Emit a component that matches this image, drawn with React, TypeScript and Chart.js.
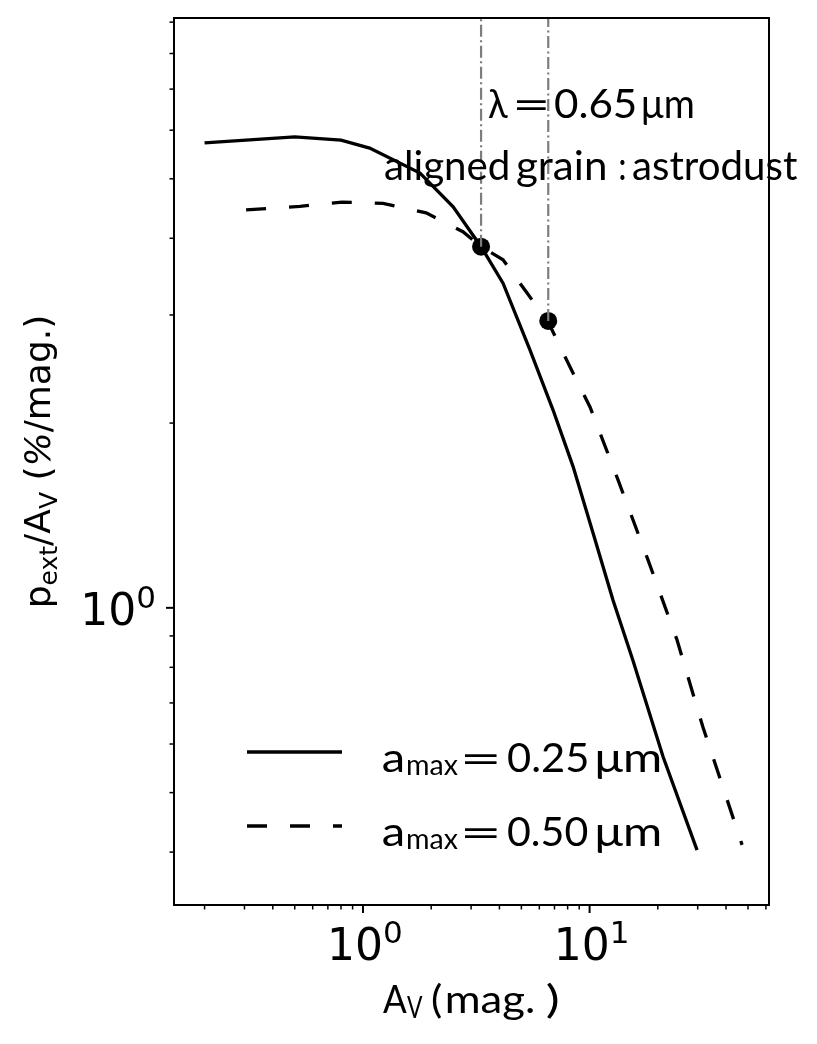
import React, { useEffect, useRef } from 'react';
import { Chart, registerables } from 'chart.js';

Chart.register(...registerables);

// ---- data ----
const solidAv = [0.2, 0.5, 0.8, 1.07, 1.785, 2.5, 3.32, 4.15, 5.46, 6.9, 8.45, 10.35, 12.68, 15.5, 21.1, 29.8];
const solidP = [5.72, 5.85, 5.78, 5.61, 5.11, 4.5, 3.876, 3.38, 2.63, 2.1, 1.7, 1.325, 1.03, 0.823, 0.572, 0.403];

const dashedAv = [0.305, 0.527, 0.808, 1.225, 1.9, 2.76, 3.32, 4.15, 5.29, 6.57, 8.19, 10.04, 13.35, 18.1, 24.3, 31.6, 47.1];
const dashedP = [4.45, 4.51, 4.58, 4.56, 4.4, 4.1, 3.876, 3.69, 3.26, 2.92, 2.47, 2.125, 1.616, 1.197, 0.887, 0.64, 0.411];

const markerAv = [3.32, 6.57];
const markerP = [3.876, 2.934];

const xMajorTicks = [1, 10];
const xMajorExps = ['0', '1'];
const xMinorTicks = [0.2, 0.3, 0.4, 0.5, 0.6, 0.7, 0.8, 0.9, 2, 3, 4, 5, 6, 7, 8, 9, 20, 30, 40, 50, 60];
const yMajorTicks = [1];
const yMajorExps = ['0'];
const yMinorTicks = [0.4, 0.5, 0.6, 0.7, 0.8, 0.9, 2, 3, 4, 5, 6, 7, 8, 9];

const xRange = [0.1466, 61.9];
const yRange = [0.328, 9.14];

const legendValues = ['0.25', '0.50'];

// ---- drawing helpers ----
type Part = { t: string; font: string; dy?: number };

function drawRich(ctx: CanvasRenderingContext2D, parts: Part[], x: number, y: number, align: 'left' | 'center' | 'right') {
  const widths = parts.map((p) => {
    ctx.font = p.font;
    return ctx.measureText(p.t).width;
  });
  const total = widths.reduce((a, b) => a + b, 0);
  let sx = align === 'left' ? x : align === 'center' ? x - total / 2 : x - total;
  ctx.textAlign = 'left';
  ctx.textBaseline = 'alphabetic';
  parts.forEach((p, i) => {
    ctx.font = p.font;
    ctx.fillText(p.t, sx, y + (p.dy || 0));
    sx += widths[i];
  });
}

// text piece whose ink is fitted horizontally between x0 and x1 (mathtext-like spacing)
type Seg = { t: string; font: string; x0: number; x1: number; dy?: number };
function drawSegs(ctx: CanvasRenderingContext2D, segs: Seg[], y: number) {
  ctx.textAlign = 'left';
  ctx.textBaseline = 'alphabetic';
  segs.forEach((s) => {
    ctx.font = s.font;
    const m = ctx.measureText(s.t);
    const l = m.actualBoundingBoxLeft;
    const ink = l + m.actualBoundingBoxRight;
    const k = ink > 0 ? (s.x1 - s.x0) / ink : 1;
    ctx.save();
    ctx.translate(s.x0, y + (s.dy || 0));
    ctx.scale(k, 1);
    ctx.fillText(s.t, l, 0);
    ctx.restore();
  });
}

const LATO = 'Lato, "Open Sans", sans-serif';
const DEJAVU = '"DejaVu Sans", sans-serif';

const decorPlugin = {
  id: 'decor',
  afterDatasetsDraw(chart: any) {
    const ctx: CanvasRenderingContext2D = chart.ctx;
    const { left, top, right, bottom } = chart.chartArea;
    const xs = chart.scales.x;
    const ys = chart.scales.y;
    ctx.save();
    ctx.fillStyle = '#000';
    ctx.strokeStyle = '#000';

    // annotation text
    const F40 = `40px ${LATO}`;
    drawSegs(
      ctx,
      [
        { t: 'λ', font: F40, x0: 488, x1: 508 },
        { t: '=', font: F40, x0: 517, x1: 547, dy: 1 },
        { t: '0.65', font: F40, x0: 555, x1: 635 },
        { t: 'μm', font: F40, x0: 643, x1: 693 },
      ],
      118
    );
    drawSegs(
      ctx,
      [
        { t: 'aligned', font: F40, x0: 385, x1: 508 },
        { t: 'grain', font: F40, x0: 517, x1: 605 },
        { t: ':', font: F40, x0: 620, x1: 625 },
        { t: 'astrodust', font: F40, x0: 633, x1: 797 },
      ],
      180
    );

    // spines
    ctx.lineWidth = 2;
    ctx.strokeRect(left, top, right - left, bottom - top);

    // ticks
    ctx.lineCap = 'butt';
    const drawX = (v: number, len: number, w: number) => {
      const px = xs.getPixelForValue(v);
      ctx.lineWidth = w;
      ctx.beginPath();
      ctx.moveTo(px, bottom);
      ctx.lineTo(px, bottom + len);
      ctx.stroke();
    };
    const drawY = (v: number, len: number, w: number) => {
      const py = ys.getPixelForValue(v);
      ctx.lineWidth = w;
      ctx.beginPath();
      ctx.moveTo(left, py);
      ctx.lineTo(left - len, py);
      ctx.stroke();
    };
    xMinorTicks.forEach((v) => drawX(v, 4.5, 1.5));
    xMajorTicks.forEach((v) => drawX(v, 8, 2));
    yMinorTicks.forEach((v) => drawY(v, 4.5, 1.5));
    yMajorTicks.forEach((v) => drawY(v, 8, 2));

    // tick labels (10^n)
    xMajorTicks.forEach((v, i) => {
      const px = xs.getPixelForValue(v);
      drawRich(
        ctx,
        [
          { t: '10', font: `44px ${DEJAVU}` },
          { t: xMajorExps[i], font: `31px ${DEJAVU}`, dy: -17 },
        ],
        px + 2,
        960,
        'center'
      );
    });
    yMajorTicks.forEach((v, i) => {
      const py = ys.getPixelForValue(v);
      drawRich(
        ctx,
        [
          { t: '10', font: `44px ${DEJAVU}` },
          { t: yMajorExps[i], font: `31px ${DEJAVU}`, dy: -17 },
        ],
        156,
        py + 17,
        'right'
      );
    });

    // x axis label
    drawSegs(
      ctx,
      [
        { t: 'A', font: `38px ${LATO}`, x0: 383, x1: 407 },
        { t: 'V', font: `30px ${LATO}`, x0: 407, x1: 423, dy: 5 },
        { t: '(', font: `38px ${LATO}`, x0: 432, x1: 442 },
        { t: 'mag.', font: `38px ${LATO}`, x0: 447, x1: 533 },
        { t: ')', font: `38px ${LATO}`, x0: 547, x1: 558 },
      ],
      1013
    );

    // y axis label
    ctx.save();
    ctx.translate(50, (top + bottom) / 2);
    ctx.rotate(-Math.PI / 2);
    drawRich(
      ctx,
      [
        { t: 'p', font: `36px ${DEJAVU}` },
        { t: 'ext', font: `25px ${DEJAVU}`, dy: 7 },
        { t: '/A', font: `36px ${DEJAVU}` },
        { t: 'V', font: `25px ${DEJAVU}`, dy: 7 },
        { t: ' (', font: `36px ${DEJAVU}` },
        { t: '%', font: `italic 36px ${DEJAVU}` },
        { t: '/mag.)', font: `36px ${DEJAVU}` },
      ],
      0,
      0,
      'center'
    );
    ctx.restore();

    // legend
    const rows = [752, 826];
    rows.forEach((ly, i) => {
      ctx.lineWidth = 3.3;
      ctx.setLineDash(i === 0 ? [] : [20, 23]);
      ctx.beginPath();
      ctx.moveTo(247, ly);
      ctx.lineTo(342, ly);
      ctx.stroke();
      ctx.setLineDash([]);
      drawSegs(
        ctx,
        [
          { t: 'a', font: F40, x0: 383, x1: 403 },
          { t: 'max', font: `28px ${LATO}`, x0: 407, x1: 458, dy: 3 },
          { t: '=', font: F40, x0: 465, x1: 498, dy: 1 },
          { t: legendValues[i], font: F40, x0: 508, x1: 587 },
          { t: 'μm', font: F40, x0: 597, x1: 660 },
        ],
        ly + 20
      );
    });

    ctx.restore();
  },
};

export default function App() {
  const ref = useRef<HTMLCanvasElement | null>(null);

  useEffect(() => {
    if (!ref.current) return;
    const toXY = (xa: number[], ya: number[]) => xa.map((x, i) => ({ x, y: ya[i] }));
    const vline = (i: number) => ({
      label: 'vline' + i,
      data: [
        { x: markerAv[i], y: markerP[i] },
        { x: markerAv[i], y: yRange[1] },
      ],
      borderColor: '#7d7d7d',
      borderWidth: 2.2,
      borderDash: [12, 3.5, 2, 3.5],
      pointRadius: 0,
    });
    const fixRange = (r: number[]) => (s: any) => {
      s.min = r[0];
      s.max = r[1];
    };
    const chart = new Chart(ref.current, {
      type: 'line',
      data: {
        datasets: [
          vline(0),
          vline(1),
          {
            label: 'a_max = 0.25',
            data: toXY(solidAv, solidP),
            borderColor: '#000',
            borderWidth: 3.3,
            pointRadius: 0,
            tension: 0,
          },
          {
            label: 'a_max = 0.50',
            data: toXY(dashedAv, dashedP),
            borderColor: '#000',
            borderWidth: 3.3,
            borderDash: [20, 23],
            pointRadius: 0,
            tension: 0,
          },
          {
            label: 'markers',
            data: toXY(markerAv, markerP),
            showLine: false,
            pointRadius: 9,
            pointBorderWidth: 0,
            pointBackgroundColor: '#000',
            pointBorderColor: '#000',
          },
        ],
      },
      options: {
        responsive: false,
        animation: false,
        events: [],
        layout: { padding: { left: 174, top: 18, right: 48, bottom: 139 } },
        plugins: { legend: { display: false }, tooltip: { enabled: false } },
        scales: {
          x: {
            type: 'logarithmic',
            bounds: 'data',
            min: xRange[0],
            max: xRange[1],
            display: false,
            afterBuildTicks: fixRange(xRange),
          },
          y: {
            type: 'logarithmic',
            bounds: 'data',
            min: yRange[0],
            max: yRange[1],
            display: false,
            afterBuildTicks: fixRange(yRange),
          },
        },
      },
      plugins: [decorPlugin],
    } as any);
    return () => chart.destroy();
  }, []);

  return (
    <div style={{ position: 'absolute', left: 0, top: 0, width: 817, height: 1044, background: '#fff' }}>
      <canvas ref={ref} width={817} height={1044} style={{ display: 'block' }} />
    </div>
  );
}
